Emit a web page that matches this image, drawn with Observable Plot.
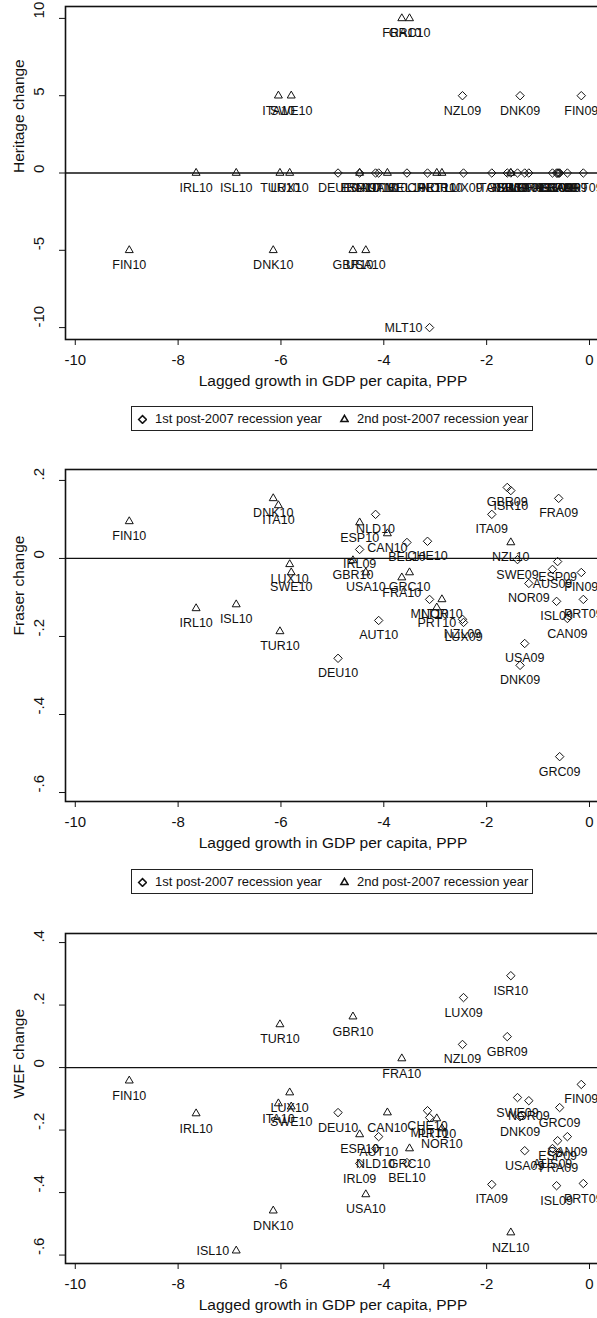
<!DOCTYPE html>
<html>
<head>
<meta charset="utf-8">
<script src="https://cdn.jsdelivr.net/npm/d3@7"></script>
<script src="https://cdn.jsdelivr.net/npm/@observablehq/plot@0.6"></script>
<style>
  html, body { margin: 0; padding: 0; width: 597px; height: 1318px; overflow: hidden; background: #fff;
    font-family: "Liberation Sans", Arial, sans-serif; color: #111; }
  .panel { position: absolute; left: 0; width: 600px; }
  .panel svg { display: block; }
  .legend { position: absolute; left: 131px; width: 402px; height: 25px; border: 1.3px solid #222;
    box-sizing: border-box; font-size: 13px; white-space: nowrap; overflow: hidden; background: #fff; }
  .legend span { position: absolute; top: 4px; }
  .legend svg { position: absolute; top: 7px; }
</style>
</head>
<body>
<div id="p1" class="panel" style="top:0px"></div>
<div id="lg1" class="legend" style="top:406px"></div>
<div id="p2" class="panel" style="top:463px"></div>
<div id="lg2" class="legend" style="top:869px"></div>
<div id="p3" class="panel" style="top:927px"></div>
<script>
// ---- data ----
const ids = ["FIN10","IRL10","ISL10","DNK10","TUR10","ITA10","LUX10","SWE10","GBR10","USA10","ESP10","CAN10","FRA10","GRC10","PRT10","NOR10","NZL10",
             "DEU10","NLD10","AUT10","IRL09","BEL10","CHE10","MLT10","NZL09","LUX09","ITA09","GBR09","ISR10","SWE09","DNK09","USA09","NOR09","AUS09","ESP09","ISL09","FRA09","GRC09","CAN09","FIN09","PRT09"];
const lagGrowth = [-8.95,-7.65,-6.87,-6.15,-6.02,-6.05,-5.83,-5.80,-4.60,-4.35,-4.47,-3.93,-3.65,-3.50,-2.97,-2.87,-1.53,
                   -4.89,-4.16,-4.10,-4.47,-3.55,-3.15,-3.11,-2.47,-2.45,-1.90,-1.60,-1.53,-1.40,-1.35,-1.26,-1.18,-0.72,-0.62,-0.64,-0.60,-0.58,-0.43,-0.16,-0.12];
const recession = ["2nd","2nd","2nd","2nd","2nd","2nd","2nd","2nd","2nd","2nd","2nd","2nd","2nd","2nd","2nd","2nd","2nd",
                   "1st","1st","1st","1st","1st","1st","1st","1st","1st","1st","1st","1st","1st","1st","1st","1st","1st","1st","1st","1st","1st","1st","1st","1st"];
const heritage = [-5,0,0,-5,0,5,0,5,-5,-5,0,0,10,10,0,0,0,
                  0,0,0,0,0,0,-10,5,0,0,0,0,0,5,0,0,0,0,0,0,0,0,5,0];
const fraser = [0.095,-0.128,-0.118,0.154,-0.187,0.136,-0.015,-0.036,-0.005,-0.036,0.092,0.064,-0.049,-0.036,-0.126,-0.105,0.041,
                -0.256,0.113,-0.159,0.023,0.041,0.044,-0.105,-0.156,-0.164,0.113,0.182,0.174,-0.003,-0.274,-0.218,-0.064,-0.028,-0.008,-0.110,0.154,-0.508,-0.154,-0.036,-0.105];
const wef = [-0.042,-0.147,-0.586,-0.458,0.138,-0.115,-0.080,-0.125,0.163,-0.406,-0.214,-0.144,0.029,-0.259,-0.163,-0.195,-0.528,
             -0.144,-0.259,-0.221,-0.307,-0.304,-0.138,-0.160,0.074,0.224,-0.374,0.099,0.294,-0.096,-0.157,-0.266,-0.106,-0.259,-0.234,-0.378,-0.272,-0.128,-0.221,-0.054,-0.371];
const xTicks = [-10,-8,-6,-4,-2,0];
const heritageTicks = [-10,-5,0,5,10];
const fraserTicks = [-0.6,-0.4,-0.2,0,0.2];
const wefTicks = [-0.6,-0.4,-0.2,0,0.2,0.4];
const xTitle = "Lagged growth in GDP per capita, PPP";
const legendLabels = ["1st post-2007 recession year", "2nd post-2007 recession year"];
const heritageLeftLabels = ["MLT10"];
const fraserLeftLabels = [];
const wefLeftLabels = ["ISL10"];

const fmt = d => d === 0 ? "0" : String(+d.toFixed(2)).replace(/^(-?)0\./, "$1.");

function makePanel({values, yDomain, yTicks, yTitle, leftLabels, height, frameHeight}) {
  const rows = ids.map((id, i) => ({id, x: lagGrowth[i], y: values[i], type: recession[i]}));
  const below = rows.filter(d => !leftLabels.includes(d.id));
  const left = rows.filter(d => leftLabels.includes(d.id));
  return Plot.plot({
    width: 600, height,
    marginTop: 6, marginLeft: 65, marginRight: 0, marginBottom: height - 6 - frameHeight,
    x: {domain: [-10.19, 0.214]},
    y: {domain: yDomain},
    symbol: {domain: ["1st", "2nd"], range: ["diamond2", "triangle2"]},
    style: {fontFamily: "'Liberation Sans', Arial, sans-serif", color: "#111", background: "transparent", overflow: "visible"},
    marks: [
      Plot.frame({stroke: "#111", strokeWidth: 1.6}),
      Plot.ruleY([0], {stroke: "#111", strokeWidth: 1.3}),
      Plot.axisX({ticks: xTicks, tickFormat: d => String(d), tickSize: 6, tickPadding: 9, fontSize: 15, label: null}),
      Plot.axisY({ticks: yTicks, tickFormat: () => "", tickSize: 6, label: null}),
      Plot.text(yTicks, {y: d => d, text: fmt, frameAnchor: "left", dx: -26, rotate: -90, fontSize: 15}),
      Plot.text([yTitle], {text: d => d, frameAnchor: "left", dx: -46, rotate: -90, fontSize: 15.5}),
      Plot.text([xTitle], {text: d => d, frameAnchor: "bottom", dy: 46, fontSize: 15.5}),
      Plot.dot(rows, {x: "x", y: "y", symbol: "type", r: 3.8, stroke: "#111", fill: "none", strokeWidth: 1}),
      Plot.text(below, {x: "x", y: "y", text: "id", dy: 15, fontSize: 12.5, fill: "#111"}),
      Plot.text(left, {x: "x", y: "y", text: "id", dx: -7, textAnchor: "end", fontSize: 12.5, fill: "#111"})
    ]
  });
}

document.getElementById("p1").append(makePanel({values: heritage, yDomain: [-10.77, 10.77], yTicks: heritageTicks,
  yTitle: "Heritage change", leftLabels: heritageLeftLabels, height: 395, frameHeight: 333}));
document.getElementById("p2").append(makePanel({values: fraser, yDomain: [-0.623, 0.228], yTicks: fraserTicks,
  yTitle: "Fraser change", leftLabels: fraserLeftLabels, height: 395, frameHeight: 332}));
document.getElementById("p3").append(makePanel({values: wef, yDomain: [-0.627, 0.429], yTicks: wefTicks,
  yTitle: "WEF change", leftLabels: wefLeftLabels, height: 391, frameHeight: 330}));

function legend(el) {
  const sym = (type, x) => {
    const s = Plot.plot({width: 10, height: 10, margin: 0, x: {domain: [0, 1], axis: null}, y: {domain: [0, 1], axis: null},
      symbol: {domain: ["1st", "2nd"], range: ["diamond2", "triangle2"]},
      marks: [Plot.dot([type], {x: () => 0.5, y: () => 0.5, symbol: d => d, r: 3.5, stroke: "#111", fill: "none"})]});
    s.style.left = (x - 5) + "px";
    return s;
  };
  el.append(sym("1st", 10));
  const t1 = document.createElement("span"); t1.style.left = "23px"; t1.textContent = legendLabels[0]; el.append(t1);
  el.append(sym("2nd", 212));
  const t2 = document.createElement("span"); t2.style.left = "225px"; t2.textContent = legendLabels[1]; el.append(t2);
}
legend(document.getElementById("lg1"));
legend(document.getElementById("lg2"));
</script>
</body>
</html>
